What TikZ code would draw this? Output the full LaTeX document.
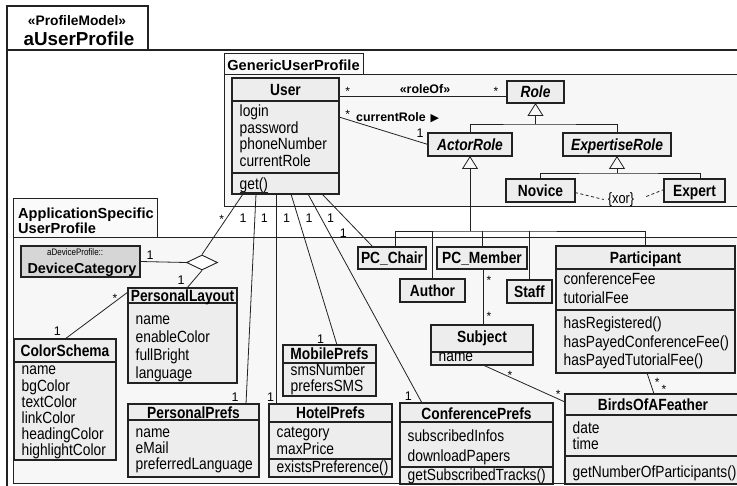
\documentclass[tikz,border=0pt]{standalone}
\usepackage{fontspec}
\setmainfont{Liberation Sans}
\newfontfamily\narrowsf[FakeStretch=0.85]{Liberation Sans}
\newfontfamily\symbolsf{DejaVu Sans}
\usetikzlibrary{arrows.meta,calc,shapes.geometric}

\definecolor{ink}{HTML}{222222}
\definecolor{clsfill}{HTML}{EDEDED}
\definecolor{pkgfill}{HTML}{F7F7F7}
\definecolor{tabfill}{HTML}{FAFAFA}
\definecolor{devfill}{HTML}{D6D6D6}

\tikzset{
  clsbox/.style={draw=ink, fill=clsfill, line width=1.3pt, inner sep=0pt, outer sep=0pt, anchor=north west},
  devbox/.style={clsbox, fill=devfill},
  pkgbody/.style={draw=ink, fill=pkgfill, line width=1pt, inner sep=0pt, outer sep=0pt, anchor=north west},
  pkgtab/.style={pkgbody, fill=tabfill},
  outerframe/.style={pkgbody, fill=white, line width=1.3pt},
  ttl/.style={font=\narrowsf\bfseries\fontsize{16.2}{17}\selectfont, inner sep=0pt, anchor=base},
  ittl/.style={font=\narrowsf\bfseries\itshape\fontsize{16.2}{17}\selectfont, inner sep=0pt, anchor=base},
  attr/.style={font=\narrowsf\fontsize{16.2}{17}\selectfont, inner sep=0pt, anchor=base west},
  pkgttl/.style={font=\bfseries\fontsize{14.6}{15}\selectfont, inner sep=0pt, anchor=base},
  onelbl/.style={font=\fontsize{12.5}{13}\selectfont, inner sep=0pt},
  manylbl/.style={font=\fontsize{12}{12}\selectfont, inner sep=0pt, anchor=base},
  asslbl/.style={font=\bfseries\fontsize{12.4}{13}\selectfont, inner sep=0pt, anchor=base},
  assoc/.style={draw=ink, line width=0.8pt},
  gen/.style={assoc, -{Triangle[open, length=13pt, width=16pt]}},
  compline/.style={draw=ink, line width=1.1pt},
  aggd/.style={diamond, draw=ink, fill=white, line width=0.9pt, aspect=2,
               minimum width=31pt, minimum height=15pt, inner sep=0pt},
}

% box from (x1,y1) to (x2,y2), y growing downwards
\newcommand\umlbox[6][clsbox]{%
  \node[#1, minimum width={#5-#3}, minimum height={#6-#4}] (#2) at (#3,#4) {};}
% compartment separator, offset measured from the top of the box
\newcommand\compsep[2]{%
  \draw[compline] ($(#1.north west)+(0,#2)$) -- ($(#1.north east)+(0,#2)$);}
% list of left aligned lines: prefix, x, first baseline, line step, items
\newcommand\attrlines[5]{%
  \foreach \attrtext [count=\ai] in {#5}{%
    \node[attr] (#1-\ai) at ({#2},{#3+(\ai-1)*(#4)}) {\attrtext};}}

\begin{document}
\begin{tikzpicture}[x=1pt,y=-1pt]
\useasboundingbox (0,0) rectangle (737,486);
\clip (0,0) rectangle (737,486);
\fill[white] (0,0) rectangle (737,486);

% ---------- packages ----------
\umlbox[outerframe]{outerbody}{7}{50}{760}{500}
\umlbox[outerframe]{outertab}{7}{6}{148}{50}
\node[pkgttl, font=\bfseries\fontsize{13.8}{14}\selectfont] (stereo) at (77,26) {«ProfileModel»};
\node[pkgttl, font=\bfseries\fontsize{18.8}{19}\selectfont] (outername) at (79,45.5) {aUserProfile};

\umlbox[pkgbody]{genbody}{224}{75}{760}{207}
\umlbox[pkgtab]{gentab}{224}{54}{363}{75}
\node[pkgttl] (genname) at (293.5,70.5) {GenericUserProfile};

\umlbox[pkgbody]{appbody}{13}{238}{760}{484}
\umlbox[pkgtab]{apptab}{13}{199}{157}{238}
\node[pkgttl, anchor=base west] (appname1) at (18,219) {ApplicationSpecific};
\node[pkgttl, anchor=base west] (appname2) at (18,233.5) {UserProfile};

% ---------- class boxes (geometry first, for the connectors) ----------
\umlbox{User}{232}{78}{339}{194}
\umlbox{Role}{507}{81}{564}{103}
\umlbox{ActorRole}{428}{133}{512}{156}
\umlbox{ExpertiseRole}{563}{133}{671}{156}
\umlbox{Novice}{506}{179}{575}{202}
\umlbox{Expert}{664}{179}{725}{202}
\umlbox[devbox]{DeviceCategory}{21}{246}{140}{277}
\umlbox{PersonalLayout}{128}{288}{237}{383}
\umlbox{ColorSchema}{14}{339}{116}{460}
\umlbox{PersonalPrefs}{128}{404}{259}{477}
\umlbox{HotelPrefs}{269}{404}{392}{477}
\umlbox{MobilePrefs}{283}{345}{376}{396}
\umlbox{ConferencePrefs}{400}{403}{553}{484}
\umlbox{PCChair}{358}{247}{426}{269}
\umlbox{PCMember}{437}{247}{527}{269}
\umlbox{Author}{400}{279}{465}{302}
\umlbox{Staff}{507}{280}{552}{303}
\umlbox{Participant}{556}{246}{735}{373}
\umlbox{Subject}{431}{325}{533}{365}
\umlbox{BoF}{565}{394}{745}{484}
\node[aggd] (agg) at (202,262.5) {};

% ---------- connectors ----------
% roleOf and currentRole
\draw[assoc] ($(User.north east)+(0,18)$) -- ($(Role.north west)+(0,15)$);
\draw[assoc] ($(User.north east)+(0,39)$) -- (ActorRole.west);

% Role generalisation
\coordinate (rolebus) at ($(Role.south)+(0,21)$);
\draw[assoc] (ActorRole.north) |- (rolebus) -| (ExpertiseRole.north);
\draw[gen] (rolebus) -- (Role.south);

% ExpertiseRole generalisation
\coordinate (expbus) at ($(ExpertiseRole.south)+(0,17)$);
\coordinate (experttop) at ($(Expert.north)+(5.5,0)$);
\draw[assoc] (Novice.north) |- (expbus) -| (experttop);
\draw[gen] (expbus) -- (ExpertiseRole.south);

% xor constraint
\node[font=\narrowsf\fontsize{15}{15}\selectfont, inner sep=0pt] (xor) at (621,199.5) {\{xor\}};
\draw[assoc, dash pattern=on 3pt off 2.5pt] ($(Novice.east)+(0,2)$) -- ($(xor.west)+(-4,0)$);
\draw[assoc, dash pattern=on 3pt off 2.5pt] ($(xor.east)+(12,-3)$) -- ($(Expert.west)+(0,-1)$);

% ActorRole generalisation
\coordinate (actbus) at ($(ActorRole.south)+(0,75)$);
\coordinate (chairtop) at ($(PCChair.north)+(3,0)$);
\draw[assoc] (chairtop) |- (actbus) -| (Participant.north);
\draw[assoc] (Author.north) -- (Author.north |- actbus);
\draw[assoc] (PCMember.north) -- (PCMember.north |- actbus);
\draw[assoc] (Staff.north) -- (Staff.north |- actbus);
\draw[gen] (actbus) -- (ActorRole.south);

% device / layout association
\draw[assoc] (DeviceCategory.east) -- (agg.west);
\draw[assoc] (agg.north) -- ($(User.south west)+(11,0)$);
\draw[assoc] (agg.south) -- ($(PersonalLayout.north west)+(59,0)$);
\draw[assoc] ($(PersonalLayout.north west)+(0,4)$) -- (ColorSchema.north);

% User to its preferences and to PC_Chair
\draw[assoc] ($(User.south west)+(24,0)$) -- ($(PersonalPrefs.north east)+(-13,0)$);
\draw[assoc] ($(User.south west)+(44,0)$) -- ($(HotelPrefs.north west)+(7,0)$);
\draw[assoc] ($(User.south west)+(59,0)$) -- ($(MobilePrefs.north west)+(54,0)$);
\draw[assoc] ($(User.south west)+(76,0)$) -- ($(ConferencePrefs.north west)+(22,0)$);
\draw[assoc] ($(User.south west)+(90,0)$) -- ($(PCChair.north west)+(15,0)$);

% conference associations
\coordinate (pcmbottom) at ($(PCMember.south)+(1.5,0)$);
\draw[assoc] (pcmbottom) -- (pcmbottom |- Subject.north);
\draw[assoc] ($(Subject.south west)+(52,0)$) -- ($(BoF.north west)+(0,8)$);
\draw[assoc] ($(Participant.south)+(1.5,0)$) -- ($(BoF.north west)+(89,0)$);

% ---------- class contents ----------
\compsep{User}{23}\compsep{User}{95}
\node[ttl] (User-t) at (285.5,95.8) {User};
\attrlines{User-a}{239.5}{117}{16.5}{login,password,phoneNumber,currentRole}
\node[attr] (User-o) at (239.5,190) {get()};
\draw[ink, line width=0.9pt] ($(User-o.base west)+(0,2)$) -- ($(User-o.base east)+(0,2)$);

\node[ittl] (Role-t) at (535.5,97.8) {Role};
\node[ittl] (ActorRole-t) at (470,150.4) {ActorRole};
\node[ittl] (ExpertiseRole-t) at (617,150.4) {ExpertiseRole};
\node[ttl] (Novice-t) at (540.5,196.4) {Novice};
\node[ttl] (Expert-t) at (694.5,196.4) {Expert};

\node[inner sep=0pt, anchor=base west, font=\narrowsf\fontsize{9.4}{10}\selectfont] (Dev-s) at (47,256) {aDeviceProfile::};
\node[inner sep=0pt, anchor=base, font=\bfseries\fontsize{14.4}{15}\selectfont] (Dev-t) at (82,273.5) {DeviceCategory};

\compsep{PersonalLayout}{15}
\node[ttl] (PersonalLayout-t) at (182.5,301.6) {PersonalLayout};
\attrlines{PersonalLayout-a}{135.5}{325}{18}{name,enableColor,fullBright,language}

\compsep{ColorSchema}{23}
\node[ttl] (ColorSchema-t) at (65,356.9) {ColorSchema};
\attrlines{ColorSchema-a}{21.5}{375}{16.2}{name,bgColor,textColor,linkColor,headingColor,highlightColor}

\compsep{PersonalPrefs}{16}
\node[ttl] (PersonalPrefs-t) at (193.5,418.6) {PersonalPrefs};
\attrlines{PersonalPrefs-a}{135.5}{438}{15.7}{name,eMail,preferredLanguage}

\compsep{HotelPrefs}{18}\compsep{HotelPrefs}{55}
\node[ttl] (HotelPrefs-t) at (330.5,418.8) {HotelPrefs};
\attrlines{HotelPrefs-a}{276.5}{438}{16}{category,maxPrice}
\node[attr] (HotelPrefs-o) at (276.5,472.5) {existsPreference()};

\compsep{MobilePrefs}{18}
\node[ttl] (MobilePrefs-t) at (329.5,360) {MobilePrefs};
\attrlines{MobilePrefs-a}{290.5}{376}{16}{smsNumber,prefersSMS}

\compsep{ConferencePrefs}{19}\compsep{ConferencePrefs}{64}
\node[ttl] (ConferencePrefs-t) at (476.5,419.6) {ConferencePrefs};
\attrlines{ConferencePrefs-a}{407.5}{442}{19}{subscribedInfos,downloadPapers}
\node[attr] (ConferencePrefs-o) at (407.5,481) {getSubscribedTracks()};

\node[ttl] (PCChair-t) at (392,263.8) {PC\_Chair};
\node[ttl] (PCMember-t) at (482,263.8) {PC\_Member};
\node[ttl] (Author-t) at (432.5,296.4) {Author};
\node[ttl] (Staff-t) at (529.5,297.4) {Staff};

\compsep{Participant}{23}\compsep{Participant}{64}
\node[ttl] (Participant-t) at (645.5,263.4) {Participant};
\attrlines{Participant-a}{563.5}{285}{19}{conferenceFee,tutorialFee}
\attrlines{Participant-o}{563.5}{328.5}{18.7}{hasRegistered(),hasPayedConferenceFee(),hasPayedTutorialFee()}

\compsep{Subject}{27}
\node[ttl] (Subject-t) at (482,342.8) {Subject};
\node[attr] (Subject-a) at (438.5,362) {name};

\compsep{BoF}{21}\compsep{BoF}{62}
\node[ttl] (BoF-t) at (653,410.8) {BirdsOfAFeather};
\attrlines{BoF-a}{572.5}{433.5}{16}{date,time}
\node[attr] (BoF-o) at (572.5,478) {getNumberOfParticipants()};

% ---------- association labels ----------
\node[manylbl] (m-ro1) at (347.7,95.3) {*};
\node[asslbl] (roleof) at (425,93.8) {«roleOf»};
\node[manylbl] (m-ro2) at (496,95.3) {*};
\node[manylbl] (m-cr1) at (347.7,118.7) {*};
\node[asslbl, anchor=base west] (currole) at (356,121.5) {currentRole};
\node[inner sep=0pt, anchor=base west, font=\symbolsf\fontsize{11}{11}\selectfont] (curarrow) at (430.5,121.5) {▶};
\node[onelbl] (m-cr2) at (420,133.3) {1};

\node[manylbl] (m-u0) at (221.7,223.7) {*};
\node[onelbl] (m-u1) at (243,218) {1};
\node[onelbl] (m-u2) at (264.3,218) {1};
\node[onelbl] (m-u3) at (286.7,218) {1};
\node[onelbl] (m-u4) at (309,218) {1};
\node[onelbl] (m-u5) at (330.7,218) {1};
\node[onelbl] (m-u6) at (343.3,233.3) {1};

\node[onelbl] (m-dev) at (150,255) {1};
\node[onelbl] (m-pl) at (181,280) {1};
\node[manylbl] (m-pl2) at (115,303) {*};
\node[onelbl] (m-cs) at (57.3,331.7) {1};
\node[onelbl] (m-pp) at (235,397.3) {1};
\node[onelbl] (m-hp) at (270.7,397.3) {1};
\node[onelbl] (m-mp) at (320.7,339.3) {1};
\node[onelbl] (m-cp) at (408.3,396) {1};

\node[manylbl] (m-pm1) at (489,284.3) {*};
\node[manylbl] (m-pm2) at (489,320.3) {*};
\node[manylbl] (m-sb1) at (510,379.7) {*};
\node[manylbl] (m-sb2) at (558.3,398.7) {*};
\node[manylbl] (m-pa1) at (657.3,387) {*};
\node[manylbl] (m-pa2) at (664,393.7) {*};
\end{tikzpicture}
\end{document}
